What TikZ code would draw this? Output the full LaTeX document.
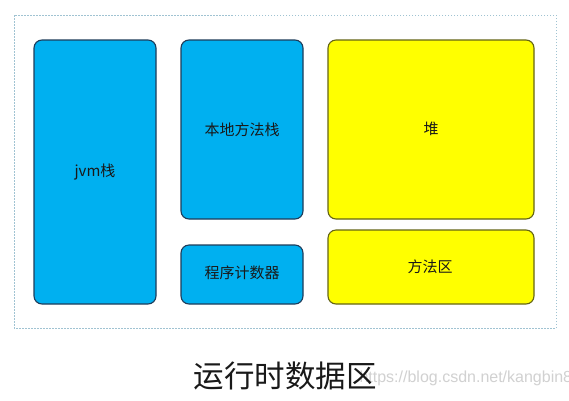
\documentclass[tikz,border=0pt]{standalone}
\usepackage{fontspec}
\setmainfont{Liberation Sans}
\newfontfamily\cjk{Noto Sans CJK SC}
\begin{document}
\begin{tikzpicture}[x=1pt,y=-1pt,
  bluebox/.style={draw={rgb,255:red,30;green,60;blue,90}, line width=1.1pt, fill={rgb,255:red,0;green,176;blue,240}, rounded corners=8pt},
  yellowbox/.style={draw={rgb,255:red,100;green,100;blue,20}, line width=1.1pt, fill={rgb,255:red,255;green,255;blue,0}, rounded corners=8pt},
  lbl/.style={font=\cjk\fontsize{15}{17}\selectfont, text=black!90}]
\useasboundingbox (0,0) rectangle (569,400);
\fill[white] (0,0) rectangle (569,400);
\draw[draw={rgb,255:red,160;green,195;blue,210}, line width=1pt, dash pattern=on 1.5pt off 1.5pt] (14,15) rectangle (556,328);
\draw[bluebox] (34,40) rectangle (156,304);
\draw[bluebox] (181,40) rectangle (303,219);
\draw[bluebox] (181,245) rectangle (303,304);
\draw[yellowbox] (328,40) rectangle (534,219);
\draw[yellowbox] (328,230) rectangle (534,304);
\node[lbl] (jvm) at (95,172) {jvm栈};
\node[lbl] (native) at (242,130) {本地方法栈};
\node[lbl] (pc) at (242,273) {程序计数器};
\node[lbl] (heap) at (431,129) {堆};
\node[lbl] (method) at (430,267) {方法区};
\node[font=\fontsize{16}{18}\selectfont, text=black!18, anchor=west] (wm) at (356,378) {https://blog.csdn.net/kangbin8};
\node[font=\cjk\fontsize{30.5}{33}\selectfont, text=black!90] (title) at (285,376) {运行时数据区};
\end{tikzpicture}
\end{document}
